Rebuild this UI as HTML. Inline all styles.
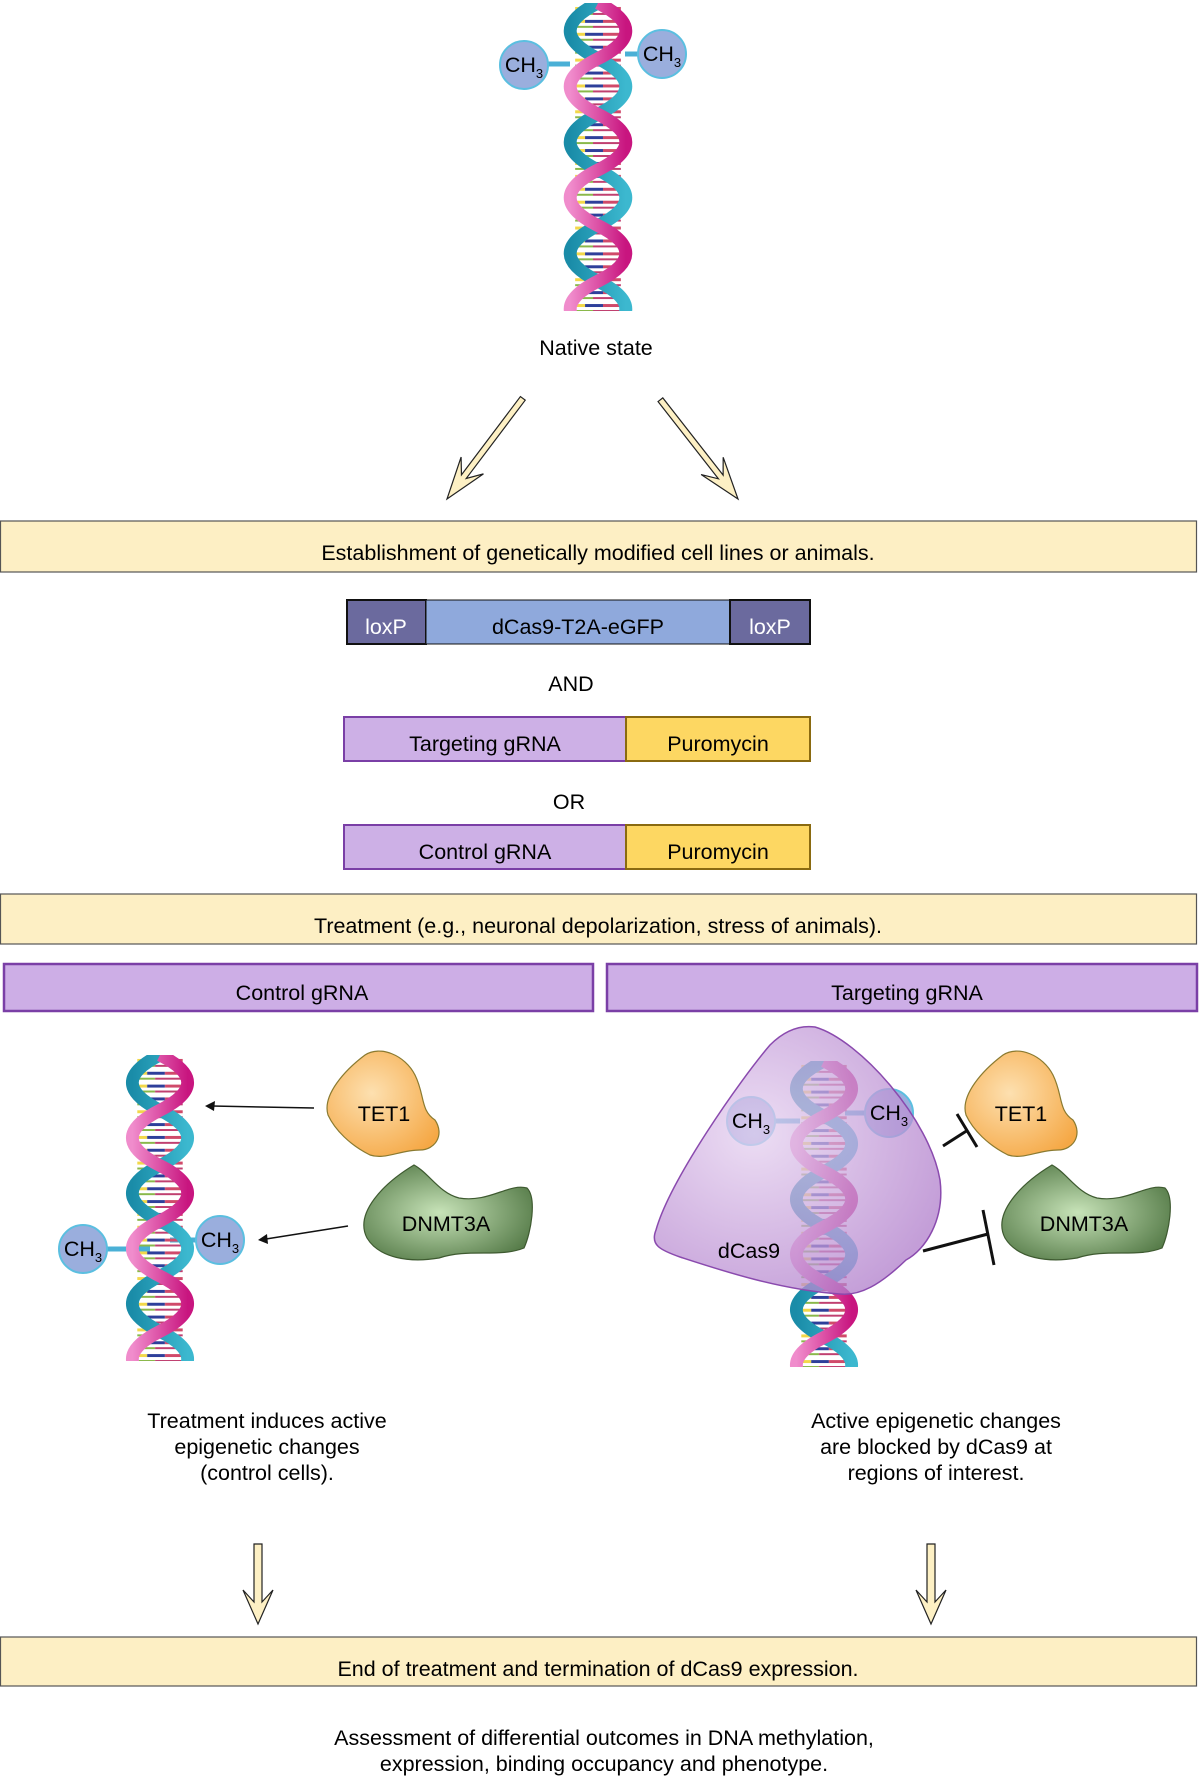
<!DOCTYPE html>
<html><head><meta charset="utf-8"><style>
html,body{margin:0;padding:0;background:#fff}
svg{display:block;font-family:"Liberation Sans",Arial,sans-serif}
</style></head><body>
<svg width="1200" height="1778" viewBox="0 0 1200 1778" xmlns="http://www.w3.org/2000/svg">
<defs>
<pattern id="bp" width="70" height="13" patternUnits="userSpaceOnUse">
<rect x="0" y="4" width="22" height="3" fill="#f2d84a"/><rect x="22" y="4" width="18" height="3" fill="#2e3f9a"/><rect x="40" y="4" width="30" height="3" fill="#d04a6a"/>
<rect x="0" y="10" width="30" height="2" fill="#8ab84a"/><rect x="30" y="10" width="40" height="2" fill="#c04070"/>
</pattern>
<linearGradient id="pk" x1="0" x2="1"><stop offset="0" stop-color="#f08ccc"/><stop offset="1" stop-color="#c8157f"/></linearGradient>
<linearGradient id="tl" x1="0" x2="1"><stop offset="0" stop-color="#1a8ca8"/><stop offset="1" stop-color="#3cb8cf"/></linearGradient>
<symbol id="dna" viewBox="0 0 70 310">
<rect x="12" y="0" width="46" height="310" fill="url(#bp)"/>
<path d="M35,0 Q-21,28 35,56 T35,112 T35,168 T35,224 T35,280 T35,336" fill="none" stroke="url(#tl)" stroke-width="13"/>
<path d="M35,0 Q91,28 35,56 T35,112 T35,168 T35,224 T35,280 T35,336" fill="none" stroke="url(#pk)" stroke-width="13"/>
</symbol>
<radialGradient id="og" cx="0.4" cy="0.4" r="0.7"><stop offset="0" stop-color="#fde0b0"/><stop offset="1" stop-color="#f5a845"/></radialGradient>
<radialGradient id="gg" cx="0.45" cy="0.5" r="0.65"><stop offset="0" stop-color="#c7e3b8"/><stop offset="1" stop-color="#4f7542"/></radialGradient>
<radialGradient id="pg" cx="0.35" cy="0.4" r="0.7"><stop offset="0" stop-color="#e6d2f0"/><stop offset="1" stop-color="#b07ecb"/></radialGradient>
<symbol id="tet" viewBox="0 0 117 107" overflow="visible">
<path d="M40,5 C55,-5 80,5 90,25 C100,45 95,60 110,70 C120,85 110,100 95,100 C75,100 60,110 45,105 C25,95 10,80 3,65 C-3,45 20,20 40,5Z" fill="url(#og)" stroke="#8a7a30" stroke-width="1.2"/>
</symbol>
<symbol id="dnmt" viewBox="0 0 173 97" overflow="visible">
<path d="M55,2 C70,10 80,30 100,35 C130,40 150,20 168,25 C178,35 172,70 165,85 C140,95 110,85 80,95 C50,100 20,95 8,75 C-5,50 25,20 55,2Z" fill="url(#gg)" stroke="#3e5a30" stroke-width="1.2"/>
</symbol>
<polygon id="arr" points="-3,-126 3,-126 3,-28 14,-42 0,0 -14,-42 -3,-28" fill="#fdf0c4" stroke="#222" stroke-width="1.2"/>
<polygon id="darr" points="-4,-80 4,-80 4,-22 15,-34 0,0 -15,-34 -4,-22" fill="#fdf0c4" stroke="#222" stroke-width="1.2"/>
</defs>
<g font-size="21.5">
<!-- Top DNA -->
<line x1="530" y1="64" x2="570" y2="64" stroke="#4ab0d6" stroke-width="5"/>
<line x1="625" y1="54" x2="660" y2="54" stroke="#4ab0d6" stroke-width="5"/>
<use href="#dna" x="563" y="3" width="70" height="308"/>
<circle cx="524" cy="65" r="24" fill="#9aaedd" stroke="#5bbfe0" stroke-width="2"/>
<text x="524" y="72" text-anchor="middle">CH<tspan font-size="13" dy="6">3</tspan></text>
<circle cx="662" cy="54" r="24" fill="#9aaedd" stroke="#5bbfe0" stroke-width="2"/>
<text x="662" y="61" text-anchor="middle">CH<tspan font-size="13" dy="6">3</tspan></text>
<text x="596" y="355" text-anchor="middle">Native state</text>

<use href="#arr" transform="translate(447,499) rotate(37)"/>
<use href="#arr" transform="translate(738,499) rotate(-38)"/>

<rect x="0.5" y="521" width="1196" height="51" fill="#fdefc4" stroke="#555" stroke-width="1.2"/>
<text x="598" y="560" text-anchor="middle">Establishment of genetically modified cell lines or animals.</text>

<rect x="347" y="600" width="79" height="44" fill="#6b6a9e" stroke="#111" stroke-width="2"/>
<rect x="426" y="600" width="304" height="44" fill="#8fa9dc" stroke="#111" stroke-width="1"/>
<rect x="730" y="600" width="80" height="44" fill="#6b6a9e" stroke="#111" stroke-width="2"/>
<text x="386" y="634" text-anchor="middle" fill="#fff">loxP</text>
<text x="578" y="634" text-anchor="middle">dCas9-T2A-eGFP</text>
<text x="770" y="634" text-anchor="middle" fill="#fff">loxP</text>
<text x="571" y="691" text-anchor="middle">AND</text>

<rect x="344" y="717" width="282" height="44" fill="#cdb0e6" stroke="#7a3fa6" stroke-width="2"/>
<rect x="626" y="717" width="184" height="44" fill="#fdd762" stroke="#8a6a10" stroke-width="2"/>
<text x="485" y="751" text-anchor="middle">Targeting gRNA</text>
<text x="718" y="751" text-anchor="middle">Puromycin</text>
<text x="569" y="809" text-anchor="middle">OR</text>
<rect x="344" y="825" width="282" height="44" fill="#cdb0e6" stroke="#7a3fa6" stroke-width="2"/>
<rect x="626" y="825" width="184" height="44" fill="#fdd762" stroke="#8a6a10" stroke-width="2"/>
<text x="485" y="859" text-anchor="middle">Control gRNA</text>
<text x="718" y="859" text-anchor="middle">Puromycin</text>

<rect x="0.5" y="894" width="1196" height="50" fill="#fdefc4" stroke="#555" stroke-width="1.2"/>
<text x="598" y="933" text-anchor="middle">Treatment (e.g., neuronal depolarization, stress of animals).</text>

<rect x="4" y="964" width="589" height="47" fill="#cdaee6" stroke="#7a3fa6" stroke-width="2.5"/>
<text x="302" y="1000" text-anchor="middle">Control gRNA</text>
<rect x="607" y="964" width="590" height="47" fill="#cdaee6" stroke="#7a3fa6" stroke-width="2.5"/>
<text x="907" y="1000" text-anchor="middle">Targeting gRNA</text>

<!-- Left panel -->
<line x1="90" y1="1249" x2="150" y2="1249" stroke="#4ab0d6" stroke-width="5"/>
<line x1="170" y1="1240" x2="215" y2="1240" stroke="#4ab0d6" stroke-width="5"/>
<use href="#dna" x="125" y="1055" width="70" height="306"/>
<circle cx="83" cy="1249" r="24" fill="#9aaedd" stroke="#5bbfe0" stroke-width="2"/>
<text x="83" y="1256" text-anchor="middle">CH<tspan font-size="13" dy="6">3</tspan></text>
<circle cx="220" cy="1240" r="24" fill="#9aaedd" stroke="#5bbfe0" stroke-width="2"/>
<text x="220" y="1247" text-anchor="middle">CH<tspan font-size="13" dy="6">3</tspan></text>
<use href="#tet" x="325" y="1050" width="117" height="107"/>
<text x="384" y="1121" text-anchor="middle">TET1</text>
<use href="#dnmt" x="359" y="1163" width="173" height="97"/>
<text x="446" y="1231" text-anchor="middle">DNMT3A</text>
<line x1="314" y1="1108" x2="212" y2="1106" stroke="#111" stroke-width="1.5"/>
<polygon points="205,1106 215,1101 214,1111" fill="#111"/>
<line x1="348" y1="1226" x2="266" y2="1239" stroke="#111" stroke-width="1.5"/>
<polygon points="258,1240 267,1234 268,1244" fill="#111"/>
<text text-anchor="middle"><tspan x="267" y="1428">Treatment induces active</tspan><tspan x="267" y="1454">epigenetic changes</tspan><tspan x="267" y="1480">(control cells).</tspan></text>

<!-- Right panel -->
<line x1="760" y1="1121" x2="800" y2="1121" stroke="#4ab0d6" stroke-width="5"/>
<line x1="845" y1="1113" x2="880" y2="1113" stroke="#4ab0d6" stroke-width="5"/>
<use href="#dna" x="789" y="1061" width="70" height="306"/>
<circle cx="751" cy="1121" r="24" fill="#9aaedd" stroke="#5bbfe0" stroke-width="2"/>
<circle cx="889" cy="1113" r="24" fill="#9aaedd" stroke="#5bbfe0" stroke-width="2"/>
<path d="M815,1027 C860,1040 930,1120 940,1180 C945,1220 925,1250 906,1260 C880,1285 860,1296 840,1294 C780,1290 720,1270 680,1257 C660,1250 650,1245 656,1230 C670,1180 740,1080 770,1045 C785,1030 800,1025 815,1027Z" fill="url(#pg)" fill-opacity="0.75" stroke="#8a4aae" stroke-width="1.5"/>
<text x="751" y="1128" text-anchor="middle">CH<tspan font-size="13" dy="6">3</tspan></text>
<text x="889" y="1120" text-anchor="middle">CH<tspan font-size="13" dy="6">3</tspan></text>
<text x="749" y="1258" text-anchor="middle">dCas9</text>
<use href="#tet" x="963" y="1050" width="117" height="107"/>
<text x="1021" y="1121" text-anchor="middle">TET1</text>
<use href="#dnmt" x="997" y="1163" width="173" height="97"/>
<text x="1084" y="1231" text-anchor="middle">DNMT3A</text>
<line x1="943" y1="1146" x2="968" y2="1130" stroke="#111" stroke-width="3"/>
<line x1="957" y1="1114" x2="977" y2="1147" stroke="#111" stroke-width="3"/>
<line x1="923" y1="1251" x2="988" y2="1234" stroke="#111" stroke-width="3"/>
<line x1="983" y1="1210" x2="994" y2="1265" stroke="#111" stroke-width="3"/>
<text text-anchor="middle"><tspan x="936" y="1428">Active epigenetic changes</tspan><tspan x="936" y="1454">are blocked by dCas9 at</tspan><tspan x="936" y="1480">regions of interest.</tspan></text>

<use href="#darr" transform="translate(258,1624)"/>
<use href="#darr" transform="translate(931,1624)"/>

<rect x="0.5" y="1637" width="1196" height="49" fill="#fdefc4" stroke="#555" stroke-width="1.2"/>
<text x="598" y="1676" text-anchor="middle">End of treatment and termination of dCas9 expression.</text>

<text text-anchor="middle"><tspan x="604" y="1745">Assessment of differential outcomes in DNA methylation,</tspan><tspan x="604" y="1771">expression, binding occupancy and phenotype.</tspan></text>
</g>
</svg>
</body></html>
